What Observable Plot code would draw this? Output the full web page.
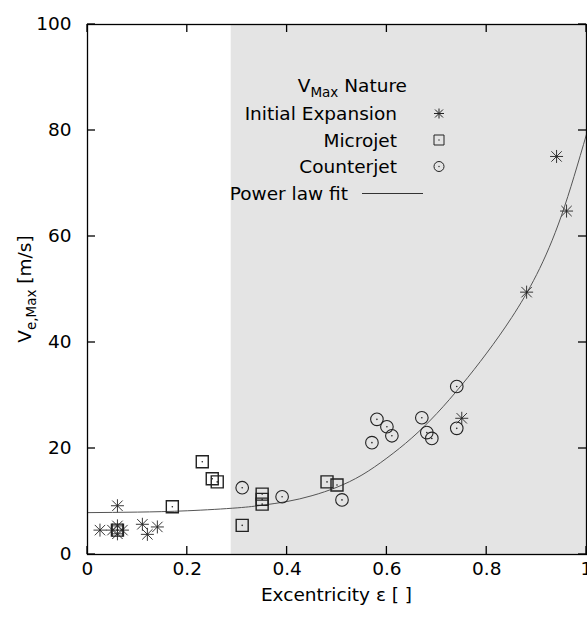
<!DOCTYPE html>
<html>
<head>
<meta charset="utf-8">
<script src="https://cdn.jsdelivr.net/npm/d3@7"></script>
<script src="https://cdn.jsdelivr.net/npm/@observablehq/plot@0.6"></script>
<style>
  body { margin: 0; background: #fff; }
  #chart { position: relative; width: 587px; height: 621px; }
</style>
</head>
<body>
<div id="chart"></div>
<script>
// ---- Data ----
const expansionX = [0.025, 0.05, 0.06, 0.06, 0.07, 0.06, 0.11, 0.12, 0.14, 0.75, 0.88, 0.94, 0.96];
const expansionY = [4.6, 4.6, 5.4, 3.9, 4.6, 9.2, 5.7, 3.8, 5.2, 25.7, 49.5, 75.1, 64.8];

const microjetX = [0.06, 0.17, 0.23, 0.25, 0.26, 0.31, 0.35, 0.35, 0.35, 0.48, 0.50];
const microjetY = [4.6, 9.0, 17.5, 14.3, 13.7, 5.5, 11.4, 10.4, 9.5, 13.7, 13.1];

const counterjetX = [0.31, 0.39, 0.51, 0.57, 0.58, 0.60, 0.61, 0.67, 0.68, 0.69, 0.74, 0.74];
const counterjetY = [12.6, 10.9, 10.3, 21.1, 25.5, 24.1, 22.4, 25.8, 23.0, 21.9, 31.7, 23.8];

// power-law fit curve
const fitX = [0, 0.1, 0.2, 0.3, 0.35, 0.4, 0.45, 0.5, 0.55, 0.6, 0.65, 0.7, 0.75, 0.8, 0.85, 0.9, 0.95, 1.0];
const fitY = [7.9, 8.0, 8.25, 8.8, 9.3, 10.0, 11.1, 12.7, 15.0, 18.2, 22.0, 26.6, 32.0, 38.0, 44.7, 52.8, 64.0, 79.3];

const shadeStart = 0.288;
const shadeEnd = 1;

const xTicks = [0, 0.2, 0.4, 0.6, 0.8, 1];
const xTickLabels = ["0", "0.2", "0.4", "0.6", "0.8", "1"];
const yTicks = [0, 20, 40, 60, 80, 100];
const yTickLabels = ["0", "20", "40", "60", "80", "100"];

const legendTitle = ["V", "Max", " Nature"];
const seriesNames = ["Initial Expansion", "Microjet", "Counterjet", "Power law fit"];
const xLabel = "Excentricity ε [ ]";
const yLabelParts = ["V", "e,Max", " [m/s]"];

// ---- Tables ----
const zip = (xs, ys) => xs.map((x, i) => ({x, y: ys[i]}));
const expansion = zip(expansionX, expansionY);
const microjet = zip(microjetX, microjetY);
const counterjet = zip(counterjetX, counterjetY);
const fit = zip(fitX, fitY);
const shade = [{x1: shadeStart, x2: shadeEnd, y1: yTicks[0], y2: yTicks[yTicks.length - 1]}];

// ---- Custom gnuplot-like symbols ----
const star = {draw(ctx, size) {
  const r = Math.sqrt(size / Math.PI), d = r * 0.8;
  ctx.moveTo(-r, 0); ctx.lineTo(r, 0);
  ctx.moveTo(0, -r); ctx.lineTo(0, r);
  ctx.moveTo(-d, -d); ctx.lineTo(d, d);
  ctx.moveTo(-d, d); ctx.lineTo(d, -d);
}};
const square = {draw(ctx, size) {
  const r = Math.sqrt(size / Math.PI);
  ctx.rect(-r, -r, 2 * r, 2 * r);
}};
const ring = {draw(ctx, size) {
  const r = Math.sqrt(size / Math.PI);
  ctx.moveTo(r, 0); ctx.arc(0, 0, r, 0, 2 * Math.PI);
}};

const FONT = "DejaVu Sans, Liberation Sans, Arial, sans-serif";
const FS = 18.5;
const xFmt = d => xTickLabels[xTicks.indexOf(d)];
const yFmt = d => yTickLabels[yTicks.indexOf(d)];

const plot = Plot.plot({
  width: 587,
  height: 621,
  marginLeft: 87,
  marginRight: 1,
  marginTop: 24,
  marginBottom: 67,
  x: {domain: [0, 1]},
  y: {domain: [0, 100]},
  style: {fontFamily: FONT, fontSize: FS + "px", color: "black", background: "white"},
  marks: [
    Plot.rect(shade, {x1: "x1", x2: "x2", y1: "y1", y2: "y2", fill: "#e4e4e4"}),
    Plot.line(fit, {x: "x", y: "y", stroke: "#555", strokeWidth: 1, curve: "natural", clip: true}),
    Plot.dot(microjet, {x: "x", y: "y", symbol: square, r: 6, stroke: "#222", strokeWidth: 1.4, fill: "none"}),
    Plot.dot(microjet, {x: "x", y: "y", r: 0.8, fill: "#222"}),
    Plot.dot(counterjet, {x: "x", y: "y", symbol: ring, r: 6.3, stroke: "#222", strokeWidth: 1.1, fill: "none"}),
    Plot.dot(counterjet, {x: "x", y: "y", r: 0.8, fill: "#222"}),
    Plot.dot(expansion, {x: "x", y: "y", symbol: star, r: 6.5, stroke: "#222", strokeWidth: 0.9, fill: "none"}),
    Plot.frame({stroke: "black", strokeWidth: 1.3}),
    Plot.axisX(xTicks, {anchor: "bottom", tickSize: 0, tickPadding: 7, tickFormat: xFmt, fontSize: FS, label: null}),
    Plot.axisY(yTicks, {anchor: "left", tickSize: 0, tickPadding: 16, tickFormat: yFmt, fontSize: FS, label: null})
  ]
});

document.getElementById("chart").appendChild(plot);

// ---- Inward mirror ticks using the plot's own scales ----
const sx = plot.scale("x"), sy = plot.scale("y");
const svg = d3.select(plot);
const X0 = sx.apply(0), X1 = sx.apply(1), Y0 = sy.apply(0), Y1 = sy.apply(100);
const tg = svg.append("g").attr("stroke", "black").attr("stroke-width", 1.3);
xTicks.forEach(v => {
  const px = sx.apply(v);
  tg.append("line").attr("x1", px).attr("x2", px).attr("y1", Y0).attr("y2", Y0 - 8);
  tg.append("line").attr("x1", px).attr("x2", px).attr("y1", Y1).attr("y2", Y1 + 8);
});
yTicks.forEach(v => {
  const py = sy.apply(v);
  tg.append("line").attr("x1", X0).attr("x2", X0 + 8).attr("y1", py).attr("y2", py);
  tg.append("line").attr("x1", X1).attr("x2", X1 - 8).attr("y1", py).attr("y2", py);
});

// ---- Axis titles and legend (text) ----
const g = svg.append("g").attr("font-family", FONT).attr("font-size", FS).attr("fill", "black");

g.append("text").attr("x", (X0 + X1) / 2).attr("y", 601).attr("text-anchor", "middle").text(xLabel);

const yl = g.append("text").attr("transform", `translate(31,${(Y0 + Y1) / 2}) rotate(-90)`).attr("text-anchor", "middle");
yl.append("tspan").text(yLabelParts[0]);
yl.append("tspan").attr("font-size", 13.5).attr("dy", 5).text(yLabelParts[1]);
yl.append("tspan").attr("dy", -5).text(yLabelParts[2]);

const lt = g.append("text").attr("x", 407).attr("y", 92).attr("text-anchor", "end");
lt.append("tspan").text(legendTitle[0]);
lt.append("tspan").attr("font-size", 13.5).attr("dy", 5).text(legendTitle[1]);
lt.append("tspan").attr("dy", -5).text(legendTitle[2]);

const rowsY = [120, 146.5, 173, 200];
const textRight = [397, 397, 397, 348];
seriesNames.forEach((name, i) => {
  g.append("text").attr("x", textRight[i]).attr("y", rowsY[i]).attr("text-anchor", "end").text(name);
});
const syms = [star, square, ring];
syms.forEach((s, i) => {
  g.append("path")
    .attr("transform", `translate(439,${rowsY[i] - 6.5})`)
    .attr("d", d3.symbol(s, 5 * 5 * Math.PI)())
    .attr("fill", "none").attr("stroke", "#222").attr("stroke-width", 1);
  if (i > 0) g.append("circle").attr("cx", 439).attr("cy", rowsY[i] - 6.5).attr("r", 0.7).attr("fill", "#222");
});
g.append("line").attr("x1", 362).attr("x2", 423).attr("y1", rowsY[3] - 6.5).attr("y2", rowsY[3] - 6.5)
  .attr("stroke", "#333").attr("stroke-width", 1);
</script>
</body>
</html>
